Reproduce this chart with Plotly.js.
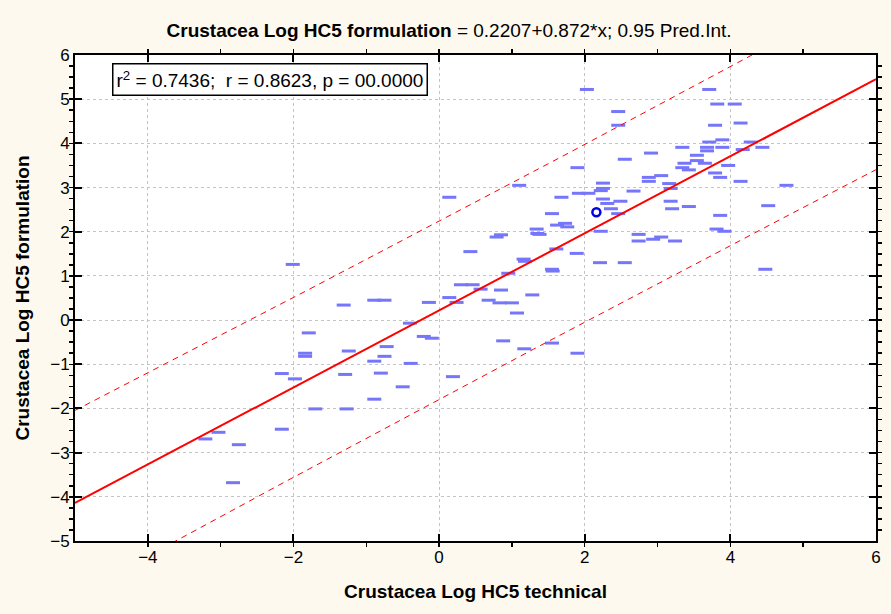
<!DOCTYPE html>
<html>
<head>
<meta charset="utf-8">
<script src="https://cdn.plot.ly/plotly-3.0.1.min.js"></script>
<style>
  html, body { margin: 0; padding: 0; background: #fdf9ee; }
  #chart { width: 891px; height: 614px; }
</style>
</head>
<body>
<div id="chart"></div>
<script>
// Log HC5 for crustacea: technical-grade substance (x) vs formulation (y)
const technical = [
  -3.21, -3.03, -2.75, -2.83, -2.16, -2.16, -1.98, -2.01, -1.79, -1.84,
  -1.84, -1.70, -1.31, -1.24, -1.29, -1.27, -0.89, -0.89, -0.89, -0.75,
  -0.72, -0.75, -0.80, -0.50, -0.39, -0.40, -0.21, -0.10, -0.14, 0.14,
  0.24, 0.19, 0.14, 0.30, 0.46, 0.57, 0.68, 0.85, 0.83, 1.00,
  1.07, 1.28, 0.88, 1.17, 1.55, 1.90, 0.43, 0.79, 0.85, 0.95,
  1.16, 1.18, 1.55, 1.56, 1.61, 1.89, 1.34, 1.35, 1.38, 1.62,
  1.73, 1.76, 1.55, 1.10, 1.68, 1.90, 2.03, 1.92, 2.05, 2.25,
  2.25, 2.22, 2.25, 2.31, 2.49, 2.36, 2.46, 2.67, 2.46, 2.46,
  2.55, 2.91, 2.88, 2.88, 3.05, 3.16, 3.18, 3.18, 3.20, 2.22,
  2.74, 2.74, 2.94, 3.05, 3.24, 2.21, 2.55, 3.71, 3.82, 4.06,
  3.79, 4.14, 3.71, 3.89, 4.28, 3.34, 3.68, 3.68, 3.89, 4.17,
  4.44, 3.54, 3.54, 3.65, 3.37, 3.34, 3.43, 3.97, 3.79, 3.86,
  4.14, 4.77, 3.43, 4.52, 3.86, 3.81, 3.92, 4.48
];
const formulation = [
  -2.69, -2.54, -2.82, -3.68, -2.47, -1.21, -1.33, 1.26, -0.29, -0.75,
  -0.82, -2.01, 0.34, -0.70, -1.23, -2.01, -0.93, -1.79, 0.45, 0.45,
  -0.60, -0.82, -1.20, -1.51, -0.98, -0.07, -0.37, -0.41, 0.40, 0.51,
  0.40, -1.28, 2.78, 0.80, 0.80, 0.70, 0.45, 0.68, 0.39, 0.39,
  0.16, 0.57, -0.47, -0.65, -0.52, -0.75, 1.55, 1.88, 1.93, 1.06,
  1.38, 1.33, 1.15, 1.11, 1.61, 1.51, 2.06, 1.96, 1.94, 2.15,
  2.19, 2.11, 2.41, 3.05, 2.78, 3.45, 5.22, 2.87, 2.87, 3.10,
  2.98, 2.93, 2.74, 2.64, 2.69, 2.52, 2.41, 2.92, 4.72, 4.41,
  3.64, 3.78, 3.23, 3.14, 3.27, 3.09, 2.98, 2.69, 2.52, 2.01,
  1.94, 1.79, 1.83, 1.88, 1.79, 1.30, 1.30, 5.22, 4.89, 4.89,
  4.41, 4.46, 4.03, 4.08, 4.03, 3.91, 3.91, 3.83, 3.91, 3.86,
  3.91, 3.73, 3.61, 3.55, 3.55, 3.45, 3.40, 3.50, 3.33, 3.23,
  3.14, 3.05, 2.57, 2.59, 2.37, 2.06, 2.01, 1.15
];
// highlighted observation
const markedTechnical = [2.16];
const markedFormulation = [2.44];

// fitted line from the title: y = 0.2207 + 0.872*x
const intercept = 0.2207;
const slope = 0.872;
const tCrit = 1.979;          // t(0.975, n-2) for the 0.95 prediction interval
const xRange = [-5, 6];
const yRange = [-5, 6];

// residual statistics of the fit, used for the prediction band
const allX = technical.concat(markedTechnical);
const allY = formulation.concat(markedFormulation);
const n = allX.length;
const xMean = allX.reduce((a, b) => a + b, 0) / n;
const sxx = allX.reduce((a, x) => a + (x - xMean) ** 2, 0);
const sse = allX.reduce((a, x, i) => a + (allY[i] - (intercept + slope * x)) ** 2, 0);
const s = Math.sqrt(sse / (n - 2));

const gridX = [];
for (let k = 0; k <= 110; k++) gridX.push(xRange[0] + k * (xRange[1] - xRange[0]) / 110);
const fitY = gridX.map(x => intercept + slope * x);
const halfBand = gridX.map(x => tCrit * s * Math.sqrt(1 + 1 / n + (x - xMean) ** 2 / sxx));
const upperY = fitY.map((y, i) => y + halfBand[i]);
const lowerY = fitY.map((y, i) => y - halfBand[i]);

const FONT = 'Liberation Sans, Arial, sans-serif';

const traces = [
  {
    x: technical, y: formulation, type: 'scatter', mode: 'markers',
    marker: { symbol: 'line-ew', size: 10, color: 'rgb(118,118,250)',
              line: { color: 'rgb(118,118,250)', width: 3 } },
    hoverinfo: 'x+y'
  },
  {
    x: markedTechnical, y: markedFormulation, type: 'scatter', mode: 'markers',
    marker: { symbol: 'circle-open', size: 8, color: '#0000e0',
              line: { color: '#0000e0', width: 2.5 } }
  },
  {
    x: gridX, y: fitY, type: 'scatter', mode: 'lines',
    line: { color: '#ff0000', width: 2 }, hoverinfo: 'skip'
  },
  {
    x: gridX, y: upperY, type: 'scatter', mode: 'lines',
    line: { color: '#ff0000', width: 1, dash: '6px,5px' }, hoverinfo: 'skip'
  },
  {
    x: gridX, y: lowerY, type: 'scatter', mode: 'lines',
    line: { color: '#ff0000', width: 1, dash: '6px,5px' }, hoverinfo: 'skip'
  }
];

const axisCommon = {
  showline: true, linecolor: '#000', linewidth: 2, mirror: 'allticks',
  ticks: 'inside', tickcolor: '#000', tickwidth: 2,
  showgrid: true, gridcolor: '#c4c4c4', griddash: '3px,3px', gridwidth: 1,
  zeroline: false,
  tickfont: { family: FONT, size: 17, color: '#000' }
};

const layout = {
  width: 891, height: 614,
  paper_bgcolor: '#fdf9ee', plot_bgcolor: '#ffffff',
  showlegend: false,
  margin: { l: 75, r: 15, t: 55, b: 73 },
  title: {
    text: '<b>Crustacea Log HC5 formulation</b> = 0.2207+0.872*x; 0.95 Pred.Int.',
    font: { family: FONT, size: 19, color: '#000' },
    xref: 'container', x: 0.504, xanchor: 'center',
    yref: 'container', y: 0.951, yanchor: 'middle'
  },
  xaxis: Object.assign({}, axisCommon, {
    range: xRange, tick0: 0, dtick: 2, ticklen: 7,
    minor: { dtick: 1, ticklen: 4, tickcolor: '#000', tickwidth: 1.5, showgrid: false },
    title: { text: '<b>Crustacea Log HC5 technical</b>', standoff: 18,
             font: { family: FONT, size: 19, color: '#000' } }
  }),
  yaxis: Object.assign({}, axisCommon, {
    range: yRange, tick0: 0, dtick: 1, ticklen: 7,
    minor: { dtick: 0.25, ticklen: 4, tickcolor: '#000', tickwidth: 1.5, showgrid: false },
    title: { text: '<b>Crustacea Log HC5 formulation</b>', standoff: 16,
             font: { family: FONT, size: 19, color: '#000' } }
  }),
  annotations: [{
    xref: 'paper', yref: 'paper', x: 0.046, y: 0.984,
    xanchor: 'left', yanchor: 'top', showarrow: false, align: 'left',
    text: 'r<sup>2</sup> = 0.7436;&nbsp;&nbsp;r = 0.8623, p = 00.0000',
    font: { family: FONT, size: 19, color: '#000' },
    bgcolor: '#ffffff', bordercolor: '#000', borderwidth: 1.5, borderpad: 3
  }]
};

Plotly.newPlot('chart', traces, layout, { displayModeBar: false, staticPlot: true });
</script>
</body>
</html>
